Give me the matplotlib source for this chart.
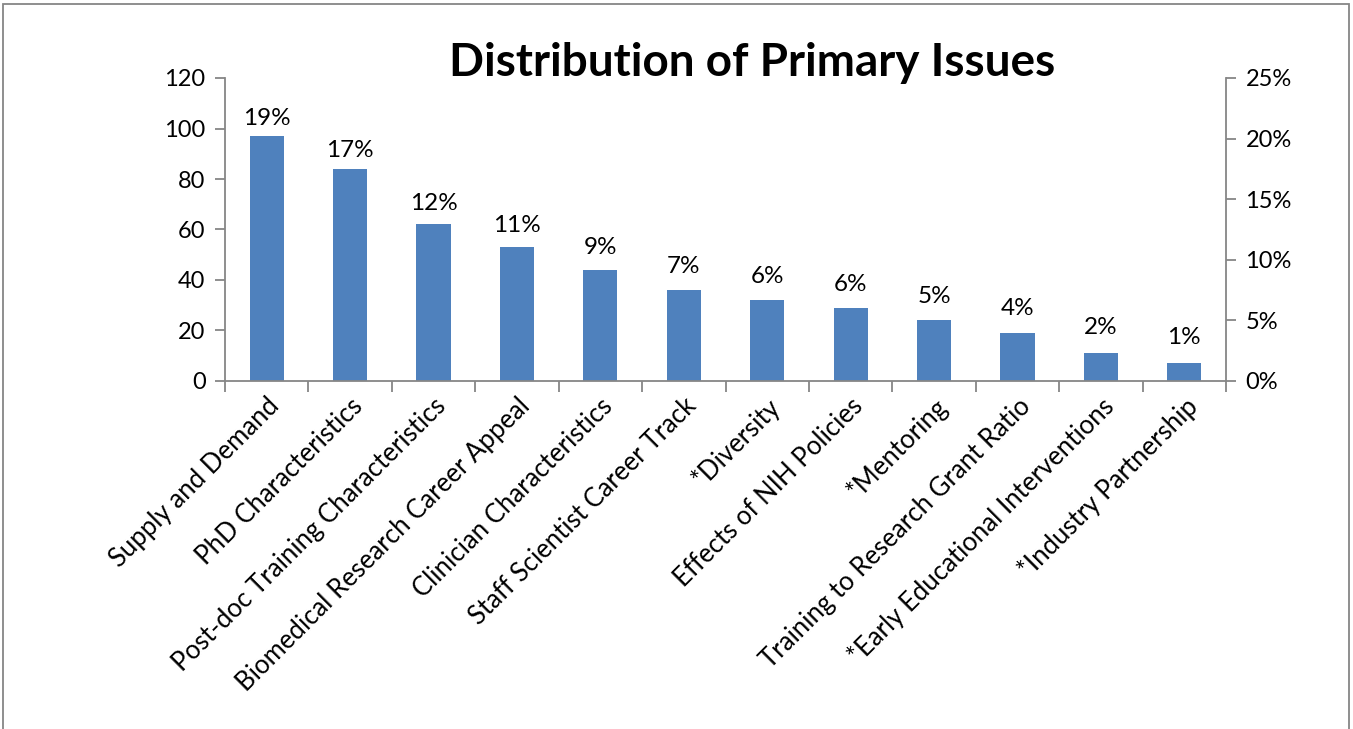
import matplotlib
matplotlib.use("Agg")
import matplotlib.pyplot as plt
from matplotlib.patches import Rectangle
from matplotlib.ticker import FuncFormatter, MultipleLocator, FixedLocator

categories = ["Supply and Demand", "PhD Characteristics", "Post-doc Training Characteristics",
              "Biomedical Research Career Appeal", "Clinician Characteristics",
              "Staff Scientist Career Track", "*Diversity", "Effects of NIH Policies",
              "*Mentoring", "Training to Research Grant Ratio",
              "*Early Educational Interventions", "*Industry Partnership"]
counts = [97, 84, 62, 53, 44, 36, 32, 29, 24, 19, 11, 7]
pct_labels = ["19%", "17%", "12%", "11%", "9%", "7%", "6%", "6%", "5%", "4%", "2%", "1%"]
title = "Distribution of Primary Issues"

W, H = 1353, 729
fig = plt.figure(figsize=(W / 100, H / 100), dpi=100)
plt.rcParams['font.family'] = ['Lato', 'DejaVu Sans']

left, right, bottom, top = 225 / W, 1226 / W, 1 - 381 / H, 1 - 78 / H
ax = fig.add_axes([left, bottom, right - left, top - bottom])
ax2 = ax.twinx()

x = list(range(len(categories)))
ax.bar(x, counts, width=0.41, color="#4F81BD", zorder=2)
ax.set_xlim(-0.5, len(categories) - 0.5)
ax.set_ylim(0, 120)
ax.yaxis.set_major_locator(MultipleLocator(20))

total = sum(counts)
ax2.set_ylim(0, 0.25)
ax2.yaxis.set_major_locator(MultipleLocator(0.05))
ax2.yaxis.set_major_formatter(FuncFormatter(lambda v, p: f"{round(v * 100)}%"))
for xi, c, lab in zip(x, counts, pct_labels):
    ax2.annotate(lab, (xi, c / total), xytext=(0, 19), textcoords="offset points",
                 ha="center", va="center", fontsize=17.5, color="black")

gray = "#868686"
for a in (ax, ax2):
    for s in a.spines.values():
        s.set_visible(False)
ax.spines['left'].set_visible(True)
ax.spines['bottom'].set_visible(True)
ax2.spines['right'].set_visible(True)
for sname, a in (('left', ax), ('bottom', ax), ('right', ax2)):
    a.spines[sname].set_color(gray)
    a.spines[sname].set_linewidth(1.3)

ax.set_xticks(x)
ax.set_xticklabels(categories, rotation=45, ha="right", va="top", rotation_mode="anchor",
                   fontsize=18.5)
ax.xaxis.set_minor_locator(FixedLocator([i - 0.5 for i in range(len(categories) + 1)]))
ax.tick_params(axis="x", which="major", length=0, pad=9)
ax.tick_params(axis="x", which="minor", length=8, width=1.3, color=gray)
ax.tick_params(axis="y", length=7, width=1.3, color=gray, labelsize=17, pad=7)
ax2.tick_params(axis="y", length=7, width=1.3, color=gray, labelsize=17, pad=7)

fig.text(752 / W, 1 - 63 / H, title, ha="center", va="center", fontsize=33,
         fontweight="bold", color="black")

fig.patches.append(Rectangle((3 / W, -0.1), (1349 - 3) / W, 1.1 - 4 / H,
                             transform=fig.transFigure, fill=False,
                             edgecolor=gray, linewidth=1.3))

fig.savefig("out.png", dpi=100)
